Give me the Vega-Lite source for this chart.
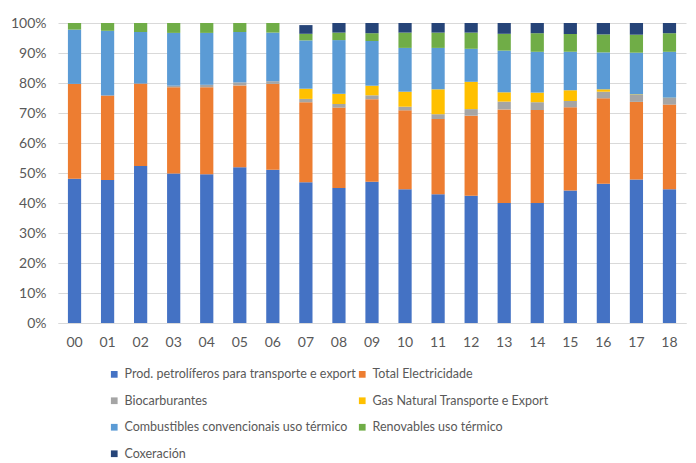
{
  "$schema": "https://vega.github.io/schema/vega-lite/v6.json",
  "autosize": "none",
  "width": 628,
  "height": 300,
  "padding": {"left": 58, "top": 23, "right": 10, "bottom": 140},
  "background": "white",
  "config": {
    "view": {"stroke": null},
    "font": "Lato",
    "axis": {"labelFont": "Lato", "labelColor": "#595959", "labelFontSize": 13}
  },
  "data": {
    "values": [
      {"ano": "00", "serie": "Prod. petrolíferos para transporte e export", "valor": 48.1},
      {"ano": "00", "serie": "Total Electricidade", "valor": 31.6},
      {"ano": "00", "serie": "Combustibles convencionais uso térmico", "valor": 18.1},
      {"ano": "00", "serie": "Renovables uso térmico", "valor": 2.2},

      {"ano": "01", "serie": "Prod. petrolíferos para transporte e export", "valor": 47.7},
      {"ano": "01", "serie": "Total Electricidade", "valor": 28.1},
      {"ano": "01", "serie": "Combustibles convencionais uso térmico", "valor": 21.6},
      {"ano": "01", "serie": "Renovables uso térmico", "valor": 2.6},

      {"ano": "02", "serie": "Prod. petrolíferos para transporte e export", "valor": 52.3},
      {"ano": "02", "serie": "Total Electricidade", "valor": 27.5},
      {"ano": "02", "serie": "Combustibles convencionais uso térmico", "valor": 17.2},
      {"ano": "02", "serie": "Renovables uso térmico", "valor": 3.0},

      {"ano": "03", "serie": "Prod. petrolíferos para transporte e export", "valor": 49.8},
      {"ano": "03", "serie": "Total Electricidade", "valor": 28.8},
      {"ano": "03", "serie": "Biocarburantes", "valor": 0.5},
      {"ano": "03", "serie": "Combustibles convencionais uso térmico", "valor": 17.6},
      {"ano": "03", "serie": "Renovables uso térmico", "valor": 3.3},

      {"ano": "04", "serie": "Prod. petrolíferos para transporte e export", "valor": 49.6},
      {"ano": "04", "serie": "Total Electricidade", "valor": 29.0},
      {"ano": "04", "serie": "Biocarburantes", "valor": 0.8},
      {"ano": "04", "serie": "Combustibles convencionais uso térmico", "valor": 17.3},
      {"ano": "04", "serie": "Renovables uso térmico", "valor": 3.3},

      {"ano": "05", "serie": "Prod. petrolíferos para transporte e export", "valor": 51.9},
      {"ano": "05", "serie": "Total Electricidade", "valor": 27.3},
      {"ano": "05", "serie": "Biocarburantes", "valor": 1.0},
      {"ano": "05", "serie": "Combustibles convencionais uso térmico", "valor": 16.8},
      {"ano": "05", "serie": "Renovables uso térmico", "valor": 3.0},

      {"ano": "06", "serie": "Prod. petrolíferos para transporte e export", "valor": 51.1},
      {"ano": "06", "serie": "Total Electricidade", "valor": 28.6},
      {"ano": "06", "serie": "Biocarburantes", "valor": 0.9},
      {"ano": "06", "serie": "Combustibles convencionais uso térmico", "valor": 16.2},
      {"ano": "06", "serie": "Renovables uso térmico", "valor": 3.2},

      {"ano": "07", "serie": "Prod. petrolíferos para transporte e export", "valor": 46.9},
      {"ano": "07", "serie": "Total Electricidade", "valor": 26.7},
      {"ano": "07", "serie": "Biocarburantes", "valor": 1.1},
      {"ano": "07", "serie": "Gas Natural Transporte e Export", "valor": 3.4},
      {"ano": "07", "serie": "Combustibles convencionais uso térmico", "valor": 16.1},
      {"ano": "07", "serie": "Renovables uso térmico", "valor": 2.2},
      {"ano": "07", "serie": "Coxeración", "valor": 2.9},

      {"ano": "08", "serie": "Prod. petrolíferos para transporte e export", "valor": 45.0},
      {"ano": "08", "serie": "Total Electricidade", "valor": 26.8},
      {"ano": "08", "serie": "Biocarburantes", "valor": 1.2},
      {"ano": "08", "serie": "Gas Natural Transporte e Export", "valor": 3.4},
      {"ano": "08", "serie": "Combustibles convencionais uso térmico", "valor": 17.9},
      {"ano": "08", "serie": "Renovables uso térmico", "valor": 2.5},
      {"ano": "08", "serie": "Coxeración", "valor": 3.2},

      {"ano": "09", "serie": "Prod. petrolíferos para transporte e export", "valor": 47.1},
      {"ano": "09", "serie": "Total Electricidade", "valor": 27.5},
      {"ano": "09", "serie": "Biocarburantes", "valor": 1.3},
      {"ano": "09", "serie": "Gas Natural Transporte e Export", "valor": 3.2},
      {"ano": "09", "serie": "Combustibles convencionais uso térmico", "valor": 14.9},
      {"ano": "09", "serie": "Renovables uso térmico", "valor": 2.6},
      {"ano": "09", "serie": "Coxeración", "valor": 3.4},

      {"ano": "10", "serie": "Prod. petrolíferos para transporte e export", "valor": 44.6},
      {"ano": "10", "serie": "Total Electricidade", "valor": 26.3},
      {"ano": "10", "serie": "Biocarburantes", "valor": 1.2},
      {"ano": "10", "serie": "Gas Natural Transporte e Export", "valor": 5.0},
      {"ano": "10", "serie": "Combustibles convencionais uso térmico", "valor": 14.6},
      {"ano": "10", "serie": "Renovables uso térmico", "valor": 5.1},
      {"ano": "10", "serie": "Coxeración", "valor": 3.2},

      {"ano": "11", "serie": "Prod. petrolíferos para transporte e export", "valor": 42.9},
      {"ano": "11", "serie": "Total Electricidade", "valor": 25.1},
      {"ano": "11", "serie": "Biocarburantes", "valor": 1.6},
      {"ano": "11", "serie": "Gas Natural Transporte e Export", "valor": 8.3},
      {"ano": "11", "serie": "Combustibles convencionais uso térmico", "valor": 13.8},
      {"ano": "11", "serie": "Renovables uso térmico", "valor": 5.1},
      {"ano": "11", "serie": "Coxeración", "valor": 3.2},

      {"ano": "12", "serie": "Prod. petrolíferos para transporte e export", "valor": 42.4},
      {"ano": "12", "serie": "Total Electricidade", "valor": 26.7},
      {"ano": "12", "serie": "Biocarburantes", "valor": 2.2},
      {"ano": "12", "serie": "Gas Natural Transporte e Export", "valor": 9.1},
      {"ano": "12", "serie": "Combustibles convencionais uso térmico", "valor": 11.0},
      {"ano": "12", "serie": "Renovables uso térmico", "valor": 5.4},
      {"ano": "12", "serie": "Coxeración", "valor": 3.2},

      {"ano": "13", "serie": "Prod. petrolíferos para transporte e export", "valor": 40.0},
      {"ano": "13", "serie": "Total Electricidade", "valor": 31.2},
      {"ano": "13", "serie": "Biocarburantes", "valor": 2.6},
      {"ano": "13", "serie": "Gas Natural Transporte e Export", "valor": 3.1},
      {"ano": "13", "serie": "Combustibles convencionais uso térmico", "valor": 13.9},
      {"ano": "13", "serie": "Renovables uso térmico", "valor": 5.6},
      {"ano": "13", "serie": "Coxeración", "valor": 3.6},

      {"ano": "14", "serie": "Prod. petrolíferos para transporte e export", "valor": 40.0},
      {"ano": "14", "serie": "Total Electricidade", "valor": 31.0},
      {"ano": "14", "serie": "Biocarburantes", "valor": 2.6},
      {"ano": "14", "serie": "Gas Natural Transporte e Export", "valor": 3.2},
      {"ano": "14", "serie": "Combustibles convencionais uso térmico", "valor": 13.6},
      {"ano": "14", "serie": "Renovables uso térmico", "valor": 6.2},
      {"ano": "14", "serie": "Coxeración", "valor": 3.4},

      {"ano": "15", "serie": "Prod. petrolíferos para transporte e export", "valor": 44.2},
      {"ano": "15", "serie": "Total Electricidade", "valor": 27.7},
      {"ano": "15", "serie": "Biocarburantes", "valor": 2.1},
      {"ano": "15", "serie": "Gas Natural Transporte e Export", "valor": 3.6},
      {"ano": "15", "serie": "Combustibles convencionais uso térmico", "valor": 12.8},
      {"ano": "15", "serie": "Renovables uso térmico", "valor": 5.9},
      {"ano": "15", "serie": "Coxeración", "valor": 3.7},

      {"ano": "16", "serie": "Prod. petrolíferos para transporte e export", "valor": 46.4},
      {"ano": "16", "serie": "Total Electricidade", "valor": 28.5},
      {"ano": "16", "serie": "Biocarburantes", "valor": 2.2},
      {"ano": "16", "serie": "Gas Natural Transporte e Export", "valor": 0.8},
      {"ano": "16", "serie": "Combustibles convencionais uso térmico", "valor": 12.3},
      {"ano": "16", "serie": "Renovables uso térmico", "valor": 6.0},
      {"ano": "16", "serie": "Coxeración", "valor": 3.8},

      {"ano": "17", "serie": "Prod. petrolíferos para transporte e export", "valor": 47.8},
      {"ano": "17", "serie": "Total Electricidade", "valor": 25.9},
      {"ano": "17", "serie": "Biocarburantes", "valor": 2.3},
      {"ano": "17", "serie": "Gas Natural Transporte e Export", "valor": 0.2},
      {"ano": "17", "serie": "Combustibles convencionais uso térmico", "valor": 13.9},
      {"ano": "17", "serie": "Renovables uso térmico", "valor": 6.0},
      {"ano": "17", "serie": "Coxeración", "valor": 3.9},

      {"ano": "18", "serie": "Prod. petrolíferos para transporte e export", "valor": 44.6},
      {"ano": "18", "serie": "Total Electricidade", "valor": 28.2},
      {"ano": "18", "serie": "Biocarburantes", "valor": 2.2},
      {"ano": "18", "serie": "Gas Natural Transporte e Export", "valor": 0.1},
      {"ano": "18", "serie": "Combustibles convencionais uso térmico", "valor": 15.3},
      {"ano": "18", "serie": "Renovables uso térmico", "valor": 6.2},
      {"ano": "18", "serie": "Coxeración", "valor": 3.4}
    ]
  },
  "transform": [
    {
      "calculate": "indexof(['Prod. petrolíferos para transporte e export', 'Total Electricidade', 'Biocarburantes', 'Gas Natural Transporte e Export', 'Combustibles convencionais uso térmico', 'Renovables uso térmico', 'Coxeración'], datum.serie)",
      "as": "ordeApilado"
    }
  ],
  "mark": {"type": "bar"},
  "encoding": {
    "x": {
      "field": "ano",
      "type": "nominal",
      "title": null,
      "scale": {"paddingInner": 0.6, "paddingOuter": 0.3},
      "axis": {
        "labelAngle": 0,
        "ticks": false,
        "domainColor": "#d9d9d9",
        "labelPadding": 12,
        "labelFontSize": 14
      }
    },
    "y": {
      "field": "valor",
      "type": "quantitative",
      "stack": "zero",
      "title": null,
      "scale": {"domain": [0, 100], "nice": false},
      "axis": {
        "values": [0, 10, 20, 30, 40, 50, 60, 70, 80, 90, 100],
        "labelExpr": "datum.value + '%'",
        "ticks": false,
        "domain": false,
        "gridColor": "#d9d9d9",
        "labelPadding": 12,
        "labelFontSize": 14
      }
    },
    "color": {
      "field": "serie",
      "type": "nominal",
      "scale": {
        "domain": [
          "Prod. petrolíferos para transporte e export",
          "Total Electricidade",
          "Biocarburantes",
          "Gas Natural Transporte e Export",
          "Combustibles convencionais uso térmico",
          "Renovables uso térmico",
          "Coxeración"
        ],
        "range": ["#4472C4", "#ED7D31", "#A5A5A5", "#FFC000", "#5B9BD5", "#70AD47", "#264478"]
      },
      "legend": {
        "title": null,
        "orient": "none",
        "legendX": 50,
        "legendY": 345,
        "direction": "horizontal",
        "columns": 2,
        "symbolType": "square",
        "symbolSize": 45,
        "symbolStrokeWidth": 0,
        "labelFont": "Lato",
        "labelFontSize": 12.5,
        "labelColor": "#595959",
        "labelLimit": 400,
        "labelOffset": 4,
        "rowPadding": 13.5,
        "columnPadding": 0
      }
    },
    "order": {"field": "ordeApilado", "type": "quantitative", "sort": "ascending"}
  }
}
